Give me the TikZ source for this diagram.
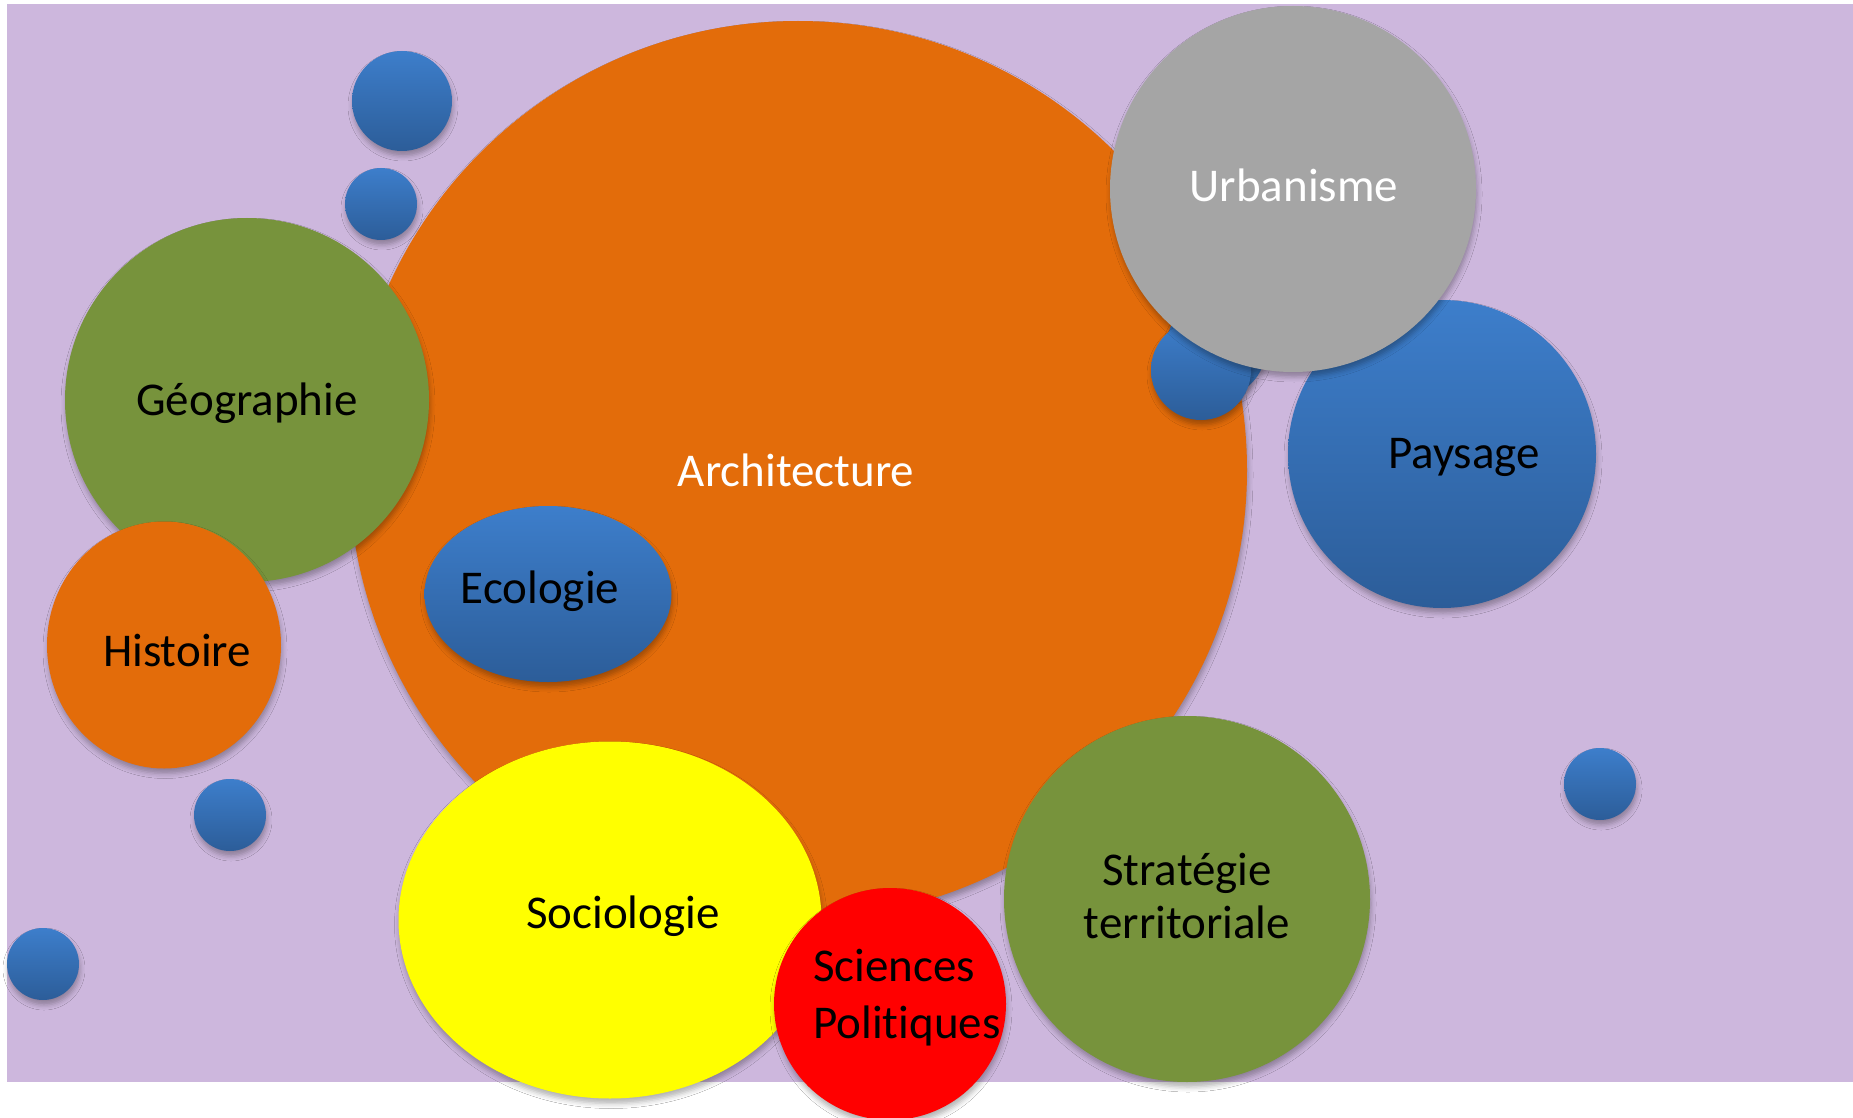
\documentclass[tikz,border=0pt]{standalone}
\usepackage{fontspec}
\setmainfont{Carlito}[Ligatures=NoCommon]
\usetikzlibrary{shapes.geometric,shadows.blur}
\definecolor{lav}{RGB}{205,183,221}
\definecolor{orng}{RGB}{227,108,10}
\definecolor{olive}{RGB}{119,147,60}
\definecolor{grayb}{RGB}{165,165,165}
\definecolor{bluetop}{RGB}{61,126,203}
\definecolor{bluebot}{RGB}{44,93,153}
\definecolor{yell}{RGB}{255,255,0}
\definecolor{redb}{RGB}{255,0,0}
\begin{document}
\begin{tikzpicture}[x=1pt,y=-1pt,
  bub/.style={ellipse, inner sep=0pt, outer sep=0pt,
    blur shadow={shadow xshift=1pt, shadow yshift=-5pt, shadow blur radius=5pt, shadow opacity=30}},
  circ/.style={bub, minimum width=2*#1 pt, minimum height=2*#1 pt},
  bluebub/.style={circ=#1, top color=bluetop, bottom color=bluebot},
  lbl/.style={font=\fontsize{47}{57}\selectfont, inner sep=0pt, anchor=base, text=black},
]
\useasboundingbox (0,0) rectangle (1853,1118);
\fill[white] (0,0) rectangle (1853,1118);
\node[fill=lav, minimum width=1846pt, minimum height=1078pt, anchor=north west, inner sep=0pt, outer sep=0pt] (bg) at (7,4) {};

% small blue bubbles
\node[bluebub=50] (b1) at (402,101) {};
\node[bluebub=36] (b2) at (381,204) {};
\node[bluebub=36] (b3) at (230,815) {};
\node[bluebub=36] (b4) at (43,964) {};
\node[bluebub=36] (b5) at (1600,784) {};

% main bubbles
\node[circ=449, fill=orng] (arch) at (798,470) {};
\node[circ=182, fill=olive] (geo) at (247,400) {};
\node[bub, minimum width=234pt, minimum height=247pt, fill=orng] (hist) at (164,645) {};
\node[bub, minimum width=247pt, minimum height=176pt, top color=bluetop, bottom color=bluebot] (eco) at (548,594) {};
\node[bluebub=50] (b6) at (1216,348) {};
\node[bluebub=50] (b7) at (1201,370) {};
\node[bluebub=154] (pays) at (1442,454) {};
\node[circ=183, fill=grayb] (urb) at (1293,189) {};
\node[circ=183, fill=olive] (strat) at (1187,899) {};
\node[bub, minimum width=423pt, minimum height=357pt, fill=yell] (socio) at (610,920) {};
\node[circ=116, fill=redb] (scpo) at (890,1004) {};

% labels
\node[lbl, text=white] (tarch) at (796,486) {Architecture};
\node[lbl, text=white] (turb) at (1294,202) {Urbanisme};
\node[lbl] (tgeo) at (247,415) {Géographie};
\node[lbl] (thist) at (177,666) {Histoire};
\node[lbl] (teco) at (540,603) {Ecologie};
\node[lbl] (tpays) at (1464,468) {Paysage};
\node[lbl] (tsocio) at (623,928) {Sociologie};
\node[lbl, anchor=base west, align=left] (tscpo) at (813,1038) {Sciences\\Politiques};
\node[lbl, align=center, font=\fontsize{47}{53}\selectfont] (tstrat) at (1187,938) {Stratégie\\territoriale};
\end{tikzpicture}
\end{document}
